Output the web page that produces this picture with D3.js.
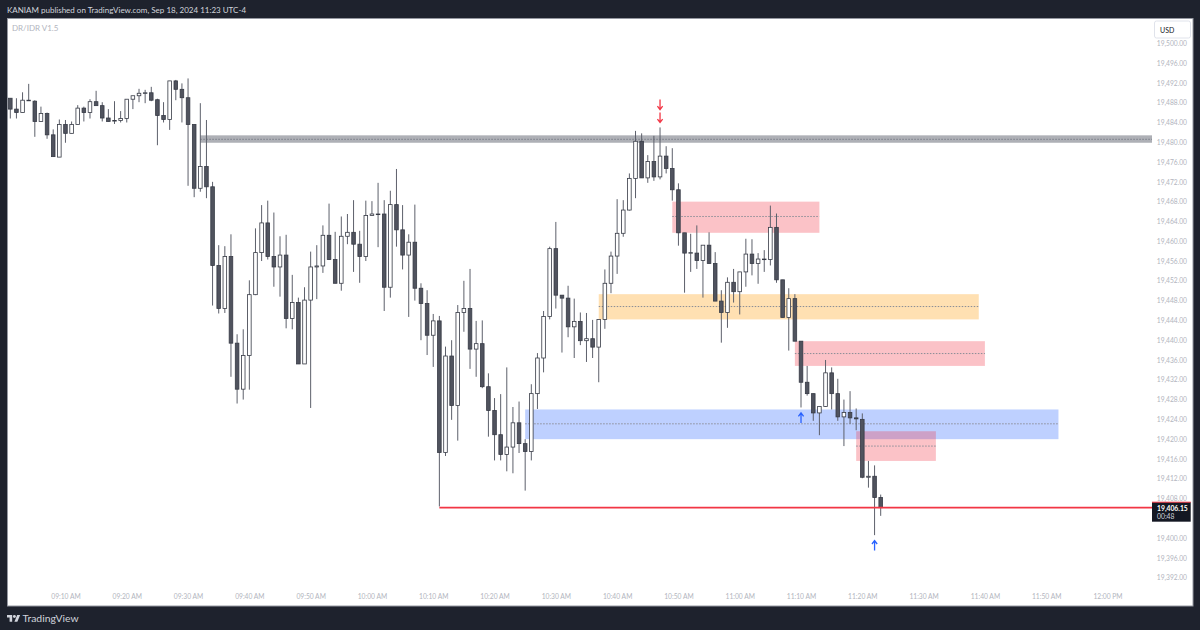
<!DOCTYPE html>
<html>
<head>
<meta charset="utf-8">
<style>
body { margin: 0; background: #1e222d; }
svg { display: block; }
text { font-family: Lato, sans-serif; }
</style>
<script src="https://cdn.jsdelivr.net/npm/d3@7"></script>
</head>
<body>
<div id="chart"></div>
<script>
'use strict'

// 1 minute bars, first one at 09:01
let firstBar = '09:01';
let opens = [
    19488.9,19486.7,19486.0,19488.5,19488.3,19484.2,19485.8,19481.5,19477.0,19483.6,
    19481.8,19483.6,19486.9,19486.0,19488.2,19487.4,19484.9,19484.3,19484.4,19484.8,
    19488.7,19489.4,19489.9,19490.0,19488.6,19485.4,19484.6,19492.4,19490.7,19489.0,
    19483.6,19470.7,19475.1,19471.0,19455.1,19446.4,19456.9,19439.4,19430.1,19436.9,
    19449.2,19457.7,19463.7,19456.9,19454.8,19457.2,19444.4,19447.6,19435.2,19448.1,
    19454.8,19455.0,19461.2,19456.3,19451.5,19461.0,19461.8,19459.4,19456.9,19465.2,
    19465.5,19465.5,19450.7,19467.4,19462.3,19457.2,19459.8,19450.5,19447.4,19441.0,
    19443.9,19417.3,19436.8,19426.8,19445.6,19446.4,19438.2,19439.3,19430.6,19425.8,
    19420.9,19416.9,19418.4,19423.3,19419.1,19417.5,19429.2,19436.4,19444.8,19458.5,
    19449.1,19448.5,19442.7,19443.8,19439.9,19440.3,19438.6,19444.2,19451.5,19457.0,
    19461.6,19466.3,19472.7,19480.2,19472.8,19476.1,19473.0,19477.2,19474.7,19470.4,
    19461.7,19457.6,19457.6,19456.1,19459.2,19455.5,19447.9,19445.6,19451.7,19449.8,
    19453.8,19457.4,19455.5,19456.4,19456.3,19462.8,19452.2,19444.6,19448.4,19439.8,
    19431.5,19429.2,19425.3,19426.6,19433.4,19429.2,19424.5,19425.4,19424.3,19424.0,
    19412.3,19412.5,19408.2
];
let highs = [
    19488.9,19488.9,19490.1,19491.8,19488.5,19487.2,19486.0,19482.6,19484.6,19484.5,
    19484.2,19487.5,19487.2,19488.7,19490.4,19488.1,19486.7,19488.3,19486.3,19488.7,
    19489.4,19490.8,19490.6,19491.2,19488.8,19488.1,19492.4,19492.6,19491.9,19492.9,
    19483.6,19487.9,19484.5,19472.0,19459.2,19459.0,19461.4,19441.2,19442.2,19452.1,
    19462.6,19467.3,19468.2,19465.8,19461.0,19461.3,19453.2,19448.6,19450.7,19457.9,
    19459.2,19463.2,19467.6,19461.9,19465.0,19465.5,19468.3,19462.1,19468.2,19468.1,
    19471.8,19468.3,19470.2,19474.6,19467.3,19461.4,19467.4,19451.5,19450.1,19445.3,
    19444.9,19438.7,19440.0,19447.1,19452.0,19454.4,19443.9,19444.0,19433.3,19428.3,
    19429.1,19434.5,19426.5,19427.6,19420.0,19431.1,19437.4,19445.9,19458.9,19463.9,
    19449.1,19451.0,19448.4,19445.6,19445.5,19444.1,19444.2,19454.3,19457.9,19468.5,
    19468.3,19473.7,19482.3,19481.8,19477.4,19481.3,19483.0,19479.2,19478.8,19471.7,
    19461.7,19461.5,19463.2,19459.2,19461.8,19457.8,19450.1,19452.7,19454.4,19453.8,
    19460.5,19460.4,19457.6,19458.2,19467.2,19465.6,19452.2,19450.5,19449.3,19439.8,
    19434.8,19429.2,19426.6,19436.0,19434.5,19432.2,19428.0,19429.7,19426.2,19425.2,
    19415.6,19414.7,19408.8
];
let lows = [
    19484.8,19484.8,19486.0,19488.4,19481.1,19484.2,19480.7,19477.1,19477.0,19479.9,
    19481.8,19483.6,19484.2,19484.8,19487.4,19484.2,19484.2,19483.7,19484.0,19484.0,
    19486.7,19488.1,19487.9,19488.3,19479.4,19484.0,19482.5,19488.5,19484.0,19471.2,
    19468.9,19470.0,19468.7,19447.0,19445.4,19445.5,19432.6,19427.2,19428.0,19430.0,
    19449.1,19456.0,19456.3,19450.8,19448.8,19442.4,19442.2,19435.2,19435.2,19426.3,
    19448.3,19453.6,19456.2,19451.5,19450.0,19459.4,19453.8,19451.6,19456.0,19465.2,
    19458.8,19445.9,19448.6,19458.9,19454.3,19444.7,19448.0,19440.0,19437.0,19434.6,
    19406.4,19416.6,19423.9,19419.7,19441.7,19434.2,19432.6,19430.3,19420.5,19415.7,
    19415.7,19413.5,19413.1,19417.2,19409.6,19415.7,19426.1,19433.5,19444.2,19446.4,
    19437.5,19440.6,19436.4,19439.0,19435.6,19436.4,19431.5,19442.3,19449.5,19453.4,
    19460.9,19466.2,19468.7,19472.8,19471.8,19472.2,19472.5,19473.7,19468.2,19459.1,
    19449.6,19453.8,19454.4,19448.6,19455.5,19447.9,19439.5,19442.5,19447.6,19445.2,
    19450.8,19453.1,19451.4,19453.8,19455.1,19451.6,19444.6,19437.9,19439.8,19426.4,
    19428.8,19423.7,19420.8,19426.5,19426.0,19423.7,19418.6,19423.1,19421.8,19412.1,
    19410.2,19400.6,19404.5
];
let closes = [
    19486.7,19486.0,19488.5,19488.5,19484.2,19485.8,19481.5,19477.1,19483.6,19481.8,
    19483.6,19486.9,19486.0,19488.2,19487.4,19484.9,19484.2,19484.4,19484.8,19488.7,
    19489.4,19489.9,19490.0,19488.5,19485.4,19484.6,19492.4,19490.7,19489.0,19483.6,
    19470.7,19475.1,19471.0,19455.1,19446.4,19456.9,19439.4,19430.1,19436.9,19449.2,
    19457.7,19463.7,19456.9,19454.8,19457.2,19444.4,19447.6,19435.2,19448.1,19454.8,
    19455.0,19461.2,19456.3,19451.5,19461.0,19461.8,19459.4,19456.9,19465.2,19465.5,
    19465.5,19450.7,19467.4,19462.3,19457.2,19459.8,19450.5,19447.4,19441.0,19443.9,
    19417.3,19436.8,19426.8,19445.6,19446.4,19438.2,19439.3,19430.6,19425.8,19420.9,
    19416.9,19418.4,19423.3,19419.1,19417.5,19429.2,19436.4,19444.8,19458.5,19449.1,
    19448.5,19442.7,19443.8,19439.9,19440.3,19438.6,19444.2,19451.5,19457.0,19461.6,
    19466.3,19472.7,19480.2,19472.8,19476.1,19473.0,19477.2,19474.7,19470.4,19461.7,
    19457.6,19457.7,19456.1,19459.2,19455.5,19447.9,19445.6,19451.7,19449.8,19453.8,
    19457.4,19455.5,19456.4,19456.4,19462.8,19452.2,19444.6,19448.4,19439.8,19431.5,
    19429.2,19425.3,19426.6,19433.4,19429.2,19424.5,19425.4,19424.3,19424.1,19412.3,
    19412.5,19408.2,19406.15
];

// 19,404 sits behind the last price label in the reference
let priceTicks = d3.range(19392, 19501, 4).filter(d => d !== 19404);
let timeTicks = ['09:10','09:20','09:30','09:40','09:50','10:00','10:10','10:20','10:30',
    '10:40','10:50','11:00','11:10','11:20','11:30','11:40','11:50','12:00'];

// Drawn zones: start, end, top, middle, bottom, kind
let zoneStarts = ['10:49','10:37','11:09','10:25','11:19'];
let zoneEnds = ['11:13','11:39','11:40','11:52','11:32'];
let zoneTops = [19468.0,19449.3,19439.8,19426.0,19421.6];
let zoneMids = [19465.0,19446.8,19437.3,19423.1,19418.6];
let zoneBottoms = [19461.7,19444.2,19434.8,19420.0,19415.6];
let zoneKinds = ['supply','mid','supply','demand','supply'];

// Marks on the bars
let markTimes = ['10:47','10:47','11:10','11:22'];
let markPrices = [19486.6,19484.0,19425.3,19399.5];
let markKinds = ['down','down','up','up'];

let lastPrice = 19406.15;
let countdown = '00:48';
let keyLevelStart = '09:32';
let keyLevelTop = 19481.4;
let keyLevelMid = 19480.6;
let keyLevelBottom = 19479.9;
let lastLineStart = '10:11';

let width = 1200,
    height = 630,
    frame = {left: 7.5, top: 18.5, right: 1193, bottom: 606},
    paneRight = 1152;

let parseTime = d3.timeParse('%H:%M');
let bars = opens.map((o, i) => ({
    time: d3.timeMinute.offset(parseTime(firstBar), i),
    open: o, high: highs[i], low: lows[i], close: closes[i]
}));

let x = d3.scaleTime()
    .domain([bars[0].time, bars[bars.length - 1].time])
    .range([10.3, 880.7]);

let y = d3.scaleLinear()
    .domain([19392, 19500])
    .range([577.7, 43.3]);

let svg = d3.select('#chart')
    .append('svg')
        .attr('width', width)
        .attr('height', height);

// Page and frame.
svg.append('rect')
    .attr('width', width)
    .attr('height', height)
    .attr('fill', '#1e222d');

svg.append('rect')
    .attr('x', frame.left)
    .attr('y', frame.top)
    .attr('width', frame.right - frame.left)
    .attr('height', frame.bottom - frame.top)
    .attr('fill', '#ffffff')
    .attr('stroke', '#9598a1')
    .attr('stroke-width', 1);

svg.append('text')
    .attr('x', 7)
    .attr('y', 13)
    .attr('fill', '#d1d4dc')
    .attr('font-size', 8)
    .text('KANIAM published on TradingView.com, Sep 18, 2024 11:23 UTC-4');

svg.append('text')
    .attr('x', 12)
    .attr('y', 31)
    .attr('fill', '#b2b5be')
    .attr('font-size', 8)
    .text('DR/IDR V1.5');

// Zones.
let zoneColor = {
    supply: 'rgba(242,54,69,0.3)',
    mid: 'rgba(255,152,0,0.3)',
    demand: 'rgba(41,98,255,0.3)'
};

let zones = zoneStarts.map((s, i) => ({
    start: parseTime(s), end: parseTime(zoneEnds[i]),
    top: zoneTops[i], mid: zoneMids[i], bottom: zoneBottoms[i], kind: zoneKinds[i]
}));

svg.append('g')
    .selectAll('rect')
    .data(zones)
    .join('rect')
        .attr('x', d => x(d.start))
        .attr('y', d => y(d.top))
        .attr('width', d => x(d.end) - x(d.start))
        .attr('height', d => y(d.bottom) - y(d.top))
        .attr('fill', d => zoneColor[d.kind]);

svg.append('g')
    .selectAll('line')
    .data(zones)
    .join('line')
        .attr('x1', d => x(d.start))
        .attr('x2', d => x(d.end))
        .attr('y1', d => y(d.mid))
        .attr('y2', d => y(d.mid))
        .attr('stroke', '#8a8d96')
        .attr('stroke-dasharray', '1.5,1.5');

// Key level band.
svg.append('rect')
    .attr('x', x(parseTime(keyLevelStart)))
    .attr('y', y(keyLevelTop))
    .attr('width', paneRight - x(parseTime(keyLevelStart)))
    .attr('height', y(keyLevelBottom) - y(keyLevelTop))
    .attr('fill', 'rgba(120,123,134,0.6)');

svg.append('line')
    .attr('x1', x(parseTime(keyLevelStart)))
    .attr('x2', paneRight)
    .attr('y1', y(keyLevelMid))
    .attr('y2', y(keyLevelMid))
    .attr('stroke', '#787b86')
    .attr('stroke-dasharray', '1.5,1.5');

// Candles.
let candles = svg.append('g')
    .selectAll('g')
    .data(bars)
    .join('g')
        .attr('transform', d => `translate(${x(d.time)}, 0)`);

candles.append('line')
    .attr('y1', d => y(d.high))
    .attr('y2', d => y(d.low))
    .attr('stroke', '#5d606b')
    .attr('stroke-width', 1);

candles.append('rect')
    .attr('x', -1.8)
    .attr('width', 3.6)
    .attr('y', d => y(Math.max(d.open, d.close)))
    .attr('height', d => Math.max(0.6, Math.abs(y(d.open) - y(d.close))))
    .attr('fill', d => d.close < d.open ? '#50535e' : '#ffffff')
    .attr('stroke', '#363a45')
    .attr('stroke-width', 0.8);

// Last price line.
svg.append('line')
    .attr('x1', x(parseTime(lastLineStart)))
    .attr('x2', paneRight)
    .attr('y1', y(lastPrice))
    .attr('y2', y(lastPrice))
    .attr('stroke', '#f23645')
    .attr('stroke-width', 1.8);

// Arrows over and under the bars.
let markColor = {down: '#f23645', up: '#2962ff'};

let arrow = function (d) {
    let s = d.kind === 'down' ? -1 : 1;
    return `M0,0 L0,${s * 10} M-2.6,${s * 3.4} L0,0 L2.6,${s * 3.4}`;
};

svg.append('g')
    .selectAll('path')
    .data(markTimes.map((t, i) => ({time: parseTime(t), price: markPrices[i], kind: markKinds[i]})))
    .join('path')
        .attr('transform', d => `translate(${x(d.time)}, ${y(d.price)})`)
        .attr('d', arrow)
        .attr('fill', 'none')
        .attr('stroke', d => markColor[d.kind])
        .attr('stroke-width', 1.3);

// Axes.
let yAxis = d3.axisRight(y)
    .tickValues(priceTicks)
    .tickFormat(d3.format(',.2f'))
    .tickSize(0);

let yGroup = svg.append('g')
    .attr('transform', 'translate(1187, 0)')
    .call(yAxis);

let xAxis = d3.axisBottom(x)
    .tickValues(timeTicks.map(parseTime))
    .tickFormat(d3.timeFormat('%I:%M %p'))
    .tickSize(0);

let xGroup = svg.append('g')
    .attr('transform', 'translate(0, 591.5)')
    .call(xAxis);

[yGroup, xGroup].forEach(g => {
    g.select('.domain').remove();
    g.attr('font-family', null).attr('font-size', null);
    g.selectAll('text')
        .attr('fill', '#b2b5be')
        .attr('font-size', 6.7);
});

yGroup.selectAll('text')
    .attr('x', 0)
    .attr('text-anchor', 'end');

// Currency button.
svg.append('rect')
    .attr('x', 1154.5)
    .attr('y', 21)
    .attr('width', 36)
    .attr('height', 17)
    .attr('rx', 2)
    .attr('fill', '#ffffff')
    .attr('stroke', '#e0e3eb');

svg.append('text')
    .attr('x', 1160)
    .attr('y', 32.5)
    .attr('fill', '#131722')
    .attr('font-size', 7)
    .text('USD');

// Last price label.
let labelTop = y(lastPrice) - 5.5;

svg.append('rect')
    .attr('x', 1152)
    .attr('y', labelTop)
    .attr('width', 38.7)
    .attr('height', 19.5)
    .attr('fill', '#131722');

svg.append('rect')
    .attr('x', 1152)
    .attr('y', labelTop - 0.5)
    .attr('width', 38.7)
    .attr('height', 1)
    .attr('fill', '#f23645');

svg.append('text')
    .attr('x', 1157)
    .attr('y', labelTop + 8.5)
    .attr('fill', '#ffffff')
    .attr('font-size', 6.8)
    .attr('font-weight', 700)
    .text(d3.format(',.2f')(lastPrice));

svg.append('text')
    .attr('x', 1157)
    .attr('y', labelTop + 16.5)
    .attr('fill', '#d1d4dc')
    .attr('font-size', 6.8)
    .text(countdown);

// Footer logo.
svg.append('path')
    .attr('transform', 'translate(7, 613.5) scale(0.37)')
    .attr('d', 'M14 22H7V11H0V4h14v18zM28 22h-8l7.5-18h8L28 22z')
    .attr('fill', '#d1d4dc');

svg.append('circle')
    .attr('cx', 7 + 20 * 0.37)
    .attr('cy', 613.5 + 8 * 0.37)
    .attr('r', 4 * 0.37)
    .attr('fill', '#d1d4dc');

svg.append('text')
    .attr('x', 22.5)
    .attr('y', 622)
    .attr('fill', '#d1d4dc')
    .attr('font-size', 10.4)
    .text('TradingView');
</script>
</body>
</html>
